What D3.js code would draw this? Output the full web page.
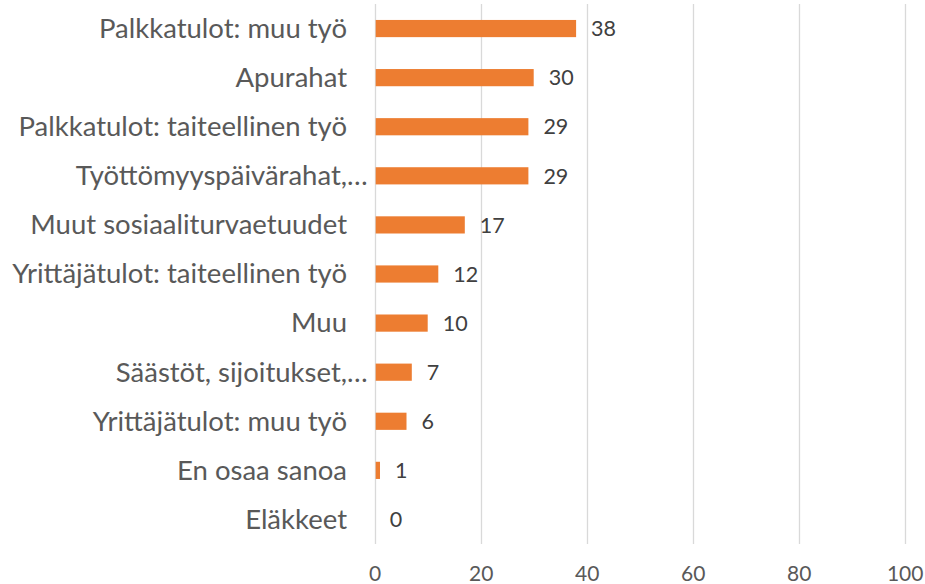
<!DOCTYPE html>
<html><head><meta charset="utf-8">
<script src="https://cdn.jsdelivr.net/npm/d3@7"></script>
<style>html,body{margin:0;padding:0;background:#fff;}</style>
</head><body>
<svg id="chart" width="925" height="584"></svg>
<script>
const categories = ["Palkkatulot: muu työ","Apurahat","Palkkatulot: taiteellinen työ","Työttömyyspäivärahat,…","Muut sosiaaliturvaetuudet","Yrittäjätulot: taiteellinen työ","Muu","Säästöt, sijoitukset,…","Yrittäjätulot: muu työ","En osaa sanoa","Eläkkeet"];
const values = [38,30,29,29,17,12,10,7,6,1,0];
const tickValues = [0,20,40,60,80,100];

const svg = d3.select("#chart");
const font = "Lato, 'Open Sans', sans-serif";
const x = d3.scaleLinear().domain([0,100]).range([374.7,904.7]);
const y = d3.scaleBand().domain(categories).range([4,544]).paddingInner(0.65).paddingOuter(0.325);

// gridlines
svg.append("g").selectAll("line").data(tickValues).join("line")
  .attr("x1", d=>Math.round(x(d))+0.5).attr("x2", d=>Math.round(x(d))+0.5)
  .attr("y1", 4).attr("y2", 544)
  .attr("stroke", "#d9d9d9").attr("stroke-width", 1.3);

// bars
svg.append("g").selectAll("rect").data(values).join("rect")
  .attr("x", x(0)+1)
  .attr("y", (d,i)=>y(categories[i]))
  .attr("width", d=>Math.max(0, x(d)-x(0)-1))
  .attr("height", y.bandwidth())
  .attr("fill", "#ED7D31");

// value labels
svg.append("g").selectAll("text").data(values).join("text")
  .attr("x", d=>x(d)+15)
  .attr("y", (d,i)=>y(categories[i])+y.bandwidth()/2)
  .attr("dy","0.36em")
  .attr("font-family", font).attr("font-size", 21.5).attr("fill", "#404040")
  .text(d=>d);

// category labels
const labelX = 347;
const catSize = 27.5;
const cg = svg.append("g");
categories.forEach(c=>{
  const cy = y(c)+y.bandwidth()/2;
  const trunc = c.endsWith("…");
  const base = trunc ? c.slice(0,-1) : c;
  cg.append("text").attr("x", labelX).attr("y", cy).attr("dy","0.34em")
    .attr("text-anchor","end").attr("font-family", font).attr("font-size", catSize)
    .attr("fill","#595959").text(base);
  if (trunc) {
    cg.append("text").attr("x", labelX).attr("y", cy).attr("dy","0.34em")
      .attr("text-anchor","start").attr("font-family", font).attr("font-size", catSize)
      .attr("fill","#595959").text("…");
  }
});

// x axis tick labels
const xAxis = d3.axisBottom(x).tickValues(tickValues).tickSize(0).tickPadding(0);
const ax = svg.append("g").attr("transform","translate(0,566)").call(xAxis);
ax.select(".domain").remove();
ax.selectAll("text").attr("font-family", font).attr("font-size", 21).attr("fill","#595959").attr("dy","0.71em");
</script>
</body></html>
